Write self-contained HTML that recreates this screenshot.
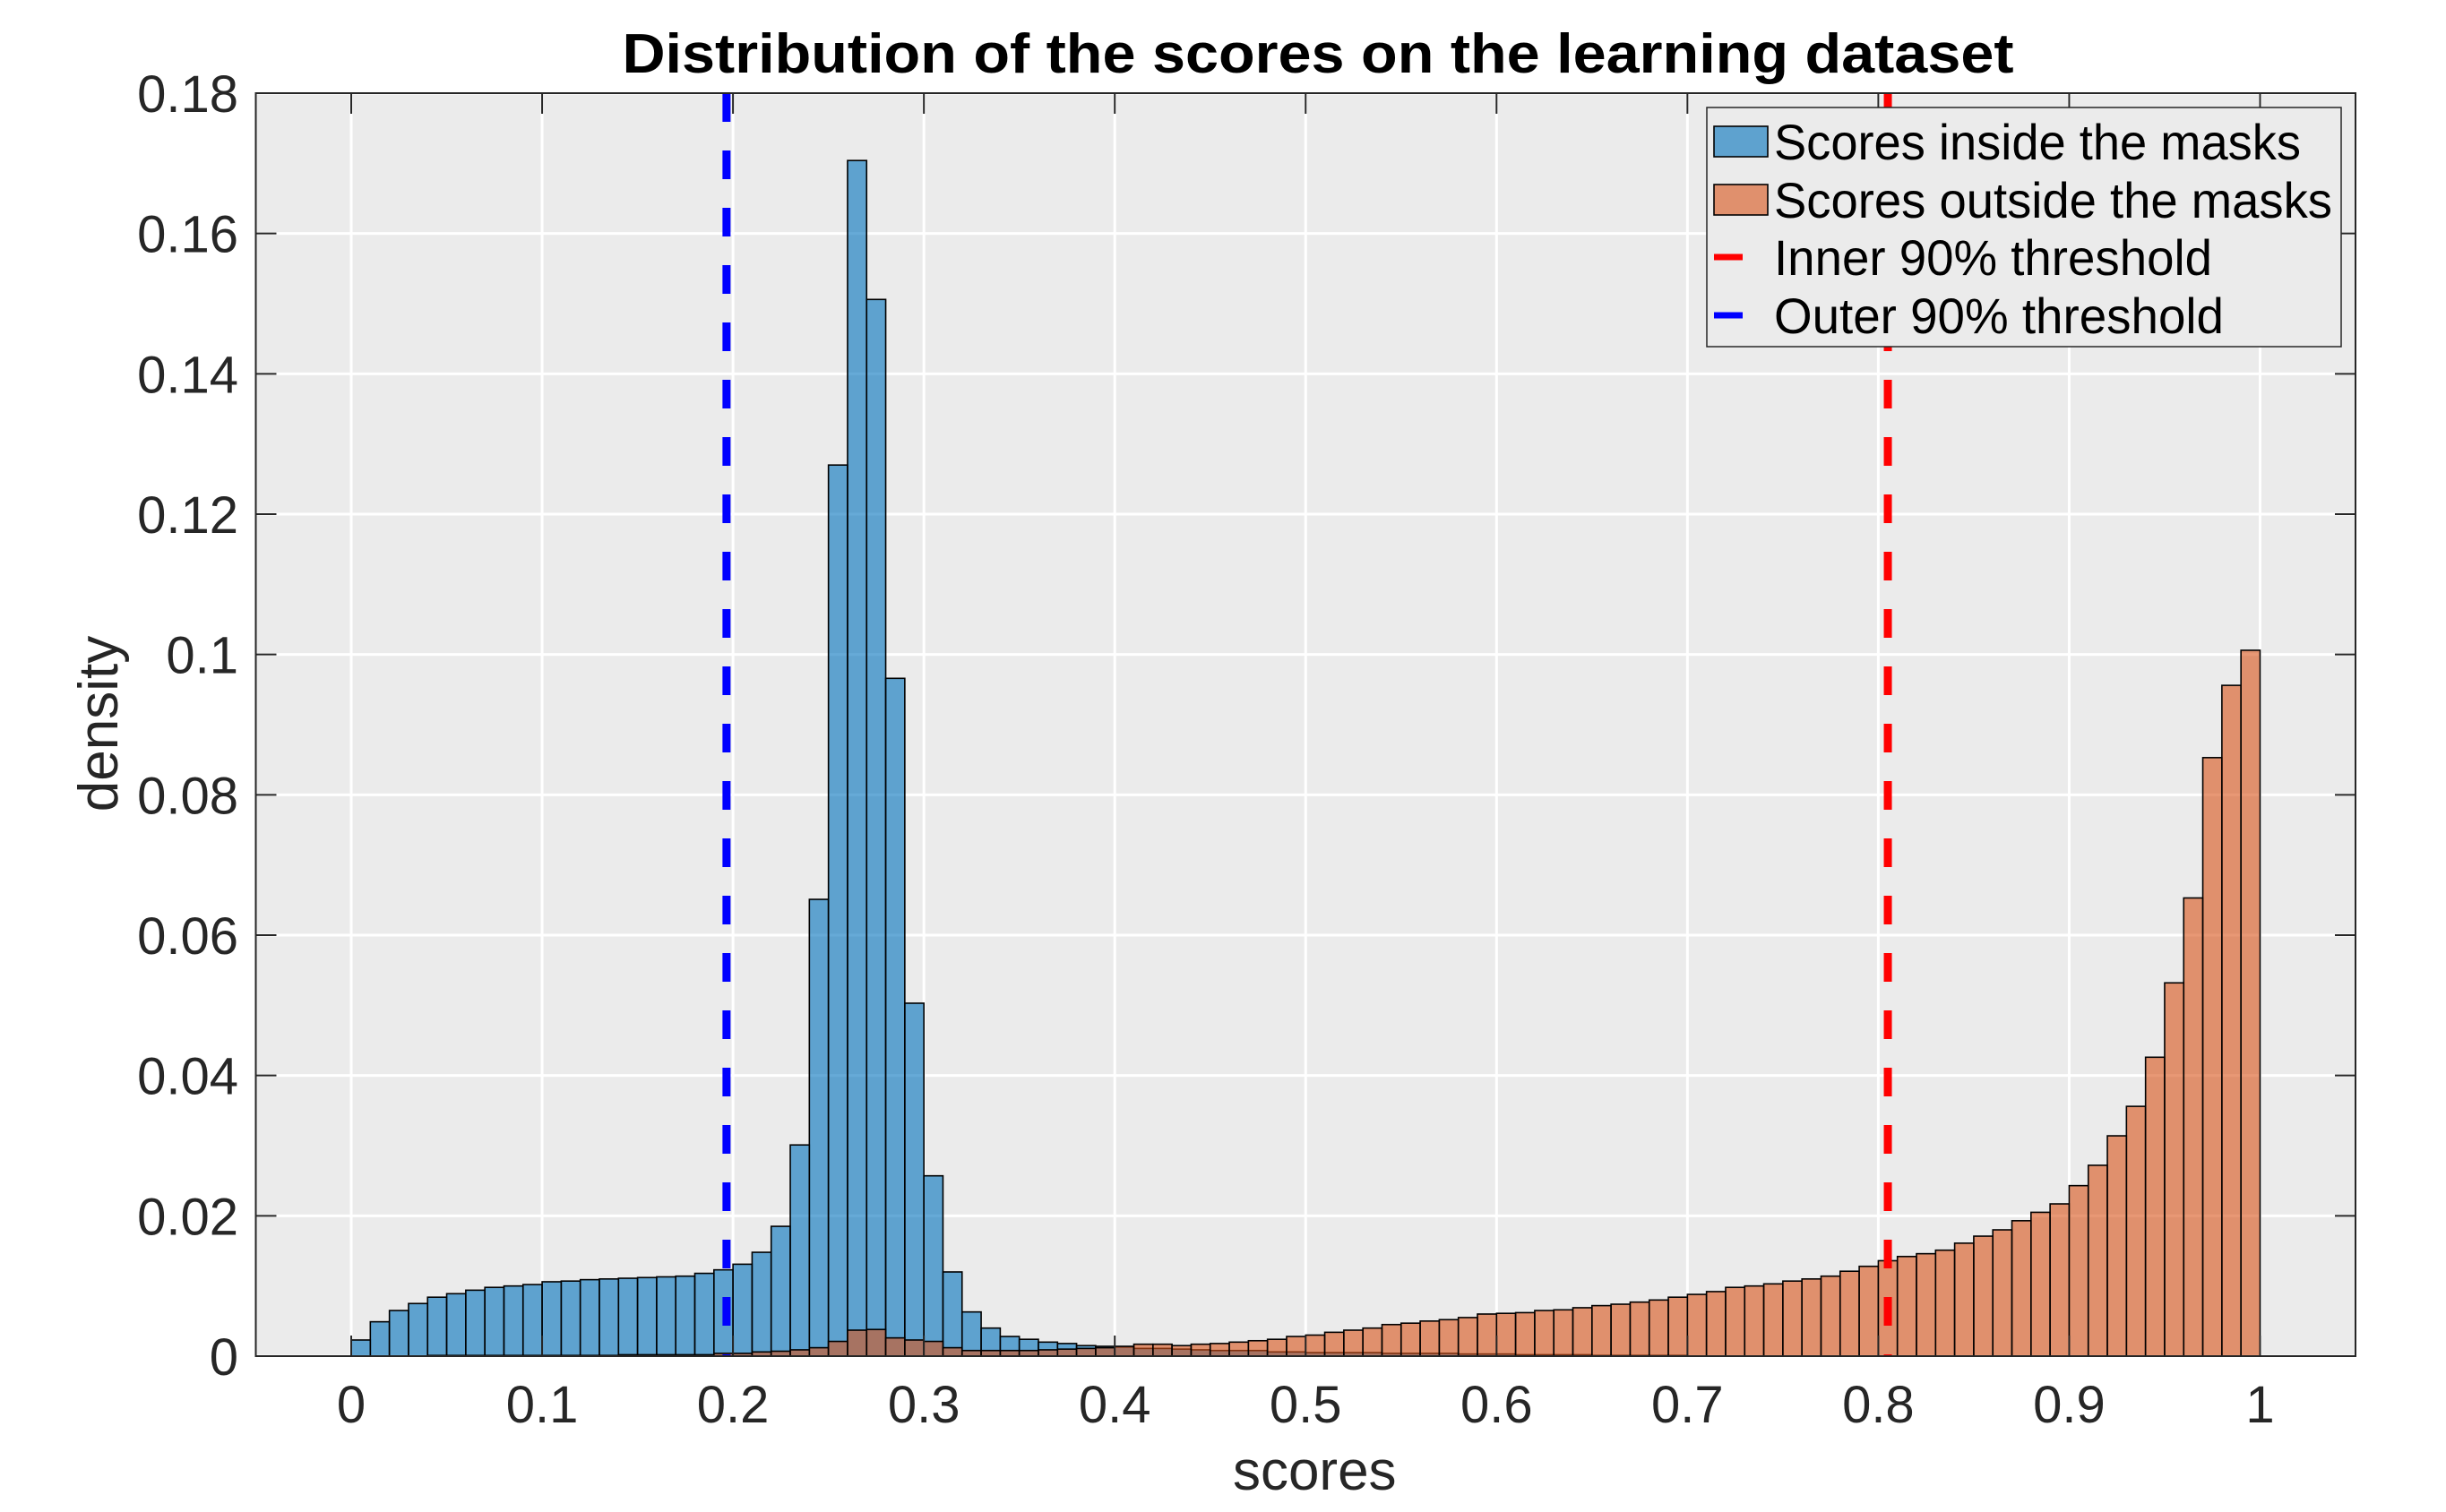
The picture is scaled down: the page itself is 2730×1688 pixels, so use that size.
<!DOCTYPE html>
<html><head><meta charset="utf-8"><style>
html,body{margin:0;padding:0;background:#fff}
svg{display:block}
text{font-family:"Liberation Sans",Arial,sans-serif}
</style></head><body>
<svg id="chart" width="2730" height="1688" viewBox="0 0 2730 1688" xmlns="http://www.w3.org/2000/svg">
<rect x="0" y="0" width="2730" height="1688" fill="#fff"/>
<g id="plot"></g>
</svg>
<script>
const binEdgesStart = 0, binWidth = 0.01;
const insideValues = [
0.0023,0.0049,0.0065,0.0075,0.0084,0.0089,0.0094,0.0098,0.0100,0.0102,
0.0106,0.0107,0.0109,0.0110,0.0111,0.0112,0.0113,0.0114,0.0118,0.0123,
0.0131,0.0148,0.0185,0.0301,0.0651,0.1270,0.1704,0.1506,0.0966,0.0503,
0.0257,0.0120,0.0063,0.0040,0.0028,0.0024,0.0020,0.0018,0.0015,0.0014,
0.0013,0.0011,0.0011,0.0010,0.0009,0.0008,0.0008,0.0008,0.0006,0.0006,
0.0005,0.0005,0.0005,0.0005,0.0004,0.0004,0.0004,0.0004,0.0003,0.0003,
0.0003,0.0002,0.0002,0.0002,0.0002,0.0001,0.0001,0.0001,0.0001,0.0001,
0,0,0,0,0,0,0,0,0,0,0,0,0,0,0,0,0,0,0,0,0,0,0,0,0,0,0,0,0,0];
const outsideValues = [
0,0,0,0,0.0001,0.0001,0.0001,0.0001,0.0001,0.0001,
0.0001,0.0001,0.0001,0.0001,0.0002,0.0002,0.0002,0.0002,0.0002,0.0004,
0.0004,0.0006,0.0007,0.0009,0.0012,0.0021,0.0037,0.0038,0.0026,0.0023,
0.0021,0.0012,0.0008,0.0008,0.0008,0.0008,0.0009,0.0010,0.0011,0.0012,
0.0014,0.0017,0.0017,0.0015,0.0017,0.0018,0.0020,0.0022,0.0024,0.0028,
0.0030,0.0034,0.0037,0.0040,0.0045,0.0047,0.0050,0.0052,0.0055,0.0060,
0.0061,0.0062,0.0065,0.0066,0.0069,0.0072,0.0074,0.0077,0.0080,0.0084,
0.0088,0.0092,0.0098,0.0100,0.0103,0.0107,0.0110,0.0114,0.0121,0.0128,
0.0136,0.0142,0.0146,0.0151,0.0161,0.0171,0.0180,0.0193,0.0205,0.0217,
0.0243,0.0272,0.0314,0.0356,0.0426,0.0532,0.0653,0.0853,0.0956,0.1006];
const xTicks = [0,0.1,0.2,0.3,0.4,0.5,0.6,0.7,0.8,0.9,1];
const xTickLabels = ["0","0.1","0.2","0.3","0.4","0.5","0.6","0.7","0.8","0.9","1"];
const yTicks = [0,0.02,0.04,0.06,0.08,0.1,0.12,0.14,0.16,0.18];
const yTickLabels = ["0","0.02","0.04","0.06","0.08","0.1","0.12","0.14","0.16","0.18"];
const innerThreshold = 0.805;
const outerThreshold = 0.1966;

const L=285.5,R=2629,T=104,B=1514;
const xMin=-0.05,xMax=1.05,yMin=0,yMax=0.18;
function xs(v){return L+(v-xMin)/(xMax-xMin)*(R-L);}
function ys(v){return B-(v-yMin)/(yMax-yMin)*(B-T);}
const NS="http://www.w3.org/2000/svg";
const g=document.getElementById('plot');
function mk(tag,attrs,parent){const e=document.createElementNS(NS,tag);for(const k in attrs)e.setAttribute(k,attrs[k]);(parent||g).appendChild(e);return e;}

const bg=mk('rect',{x:L,y:T,width:R-L,height:B-T,fill:'#ebebeb'});



const grid=mk('g',{stroke:'#ffffff','stroke-width':3});


xTicks.forEach(v=>mk('line',{x1:xs(v),x2:xs(v),y1:T,y2:B},grid));
yTicks.forEach(v=>mk('line',{x1:L,x2:R,y1:ys(v),y2:ys(v)},grid));

function drawSeries(vals,color,name){
  const sg=mk('g',{});
  
  
  vals.forEach((v,i)=>{
    if(v<=0)return;
    const x0=xs(binEdgesStart+i*binWidth),x1=xs(binEdgesStart+(i+1)*binWidth);
    const r=mk('rect',{x:x0,y:ys(v),width:x1-x0,height:ys(0)-ys(v),fill:color,'fill-opacity':0.6,stroke:'#000','stroke-width':1.6},sg);
    
    
  });
}
drawSeries(insideValues,'#0072bd','inside-masks');
drawSeries(outsideValues,'#d95319','outside-masks');

const l1=mk('line',{x1:xs(innerThreshold),x2:xs(innerThreshold),y1:T,y2:B,stroke:'#ff0000','stroke-width':9,'stroke-dasharray':'32 32'});


const l2=mk('line',{x1:xs(outerThreshold),x2:xs(outerThreshold),y1:T,y2:B,stroke:'#0000ff','stroke-width':9,'stroke-dasharray':'32 32'});



const ax=mk('g',{stroke:'#262626','stroke-width':2,fill:'none'});


mk('rect',{x:L,y:T,width:R-L,height:B-T},ax);
xTicks.forEach(v=>{mk('line',{x1:xs(v),x2:xs(v),y1:B,y2:B-23},ax);mk('line',{x1:xs(v),x2:xs(v),y1:T,y2:T+23},ax);});
yTicks.forEach(v=>{mk('line',{x1:L,x2:L+23,y1:ys(v),y2:ys(v)},ax);mk('line',{x1:R,x2:R-23,y1:ys(v),y2:ys(v)},ax);});

xTicks.forEach((v,i)=>{
  const t=mk('text',{x:xs(v),y:1588,'text-anchor':'middle','font-size':58,fill:'#262626'});
  t.textContent=xTickLabels[i];
  
  
});
yTicks.forEach((v,i)=>{
  const t=mk('text',{x:266,y:ys(v)+21,'text-anchor':'end','font-size':58,fill:'#262626'});
  t.textContent=yTickLabels[i];
  
  
});
const xl=mk('text',{x:(L+R)/2+10,y:1663,'text-anchor':'middle','font-size':62,fill:'#262626'});
xl.textContent='scores';


const yl=mk('text',{x:0,y:0,'text-anchor':'middle','font-size':62,fill:'#262626',transform:'translate(131,808) rotate(-90)'});
yl.textContent='density';


const tt=mk('text',{x:1471,y:81,'text-anchor':'middle','font-size':62,'font-weight':'bold',fill:'#000',textLength:1553,lengthAdjust:'spacingAndGlyphs'});
tt.textContent='Distribution of the scores on the learning dataset';



const lg=mk('g',{});


mk('rect',{x:1905,y:120,width:708,height:267,fill:'#ebebeb',stroke:'#262626','stroke-width':1.5},lg);
const legendLabels=['Scores inside the masks','Scores outside the masks','Inner 90% threshold','Outer 90% threshold'];
const legendWidths=[588,623,489,502];
const rowY=[158,223,287,352];
legendLabels.forEach((lab,i)=>{
  const eg=mk('g',{},lg);
  
  
  if(i<2){
    mk('rect',{x:1913,y:rowY[i]-17,width:60,height:34,fill:i==0?'#0072bd':'#d95319','fill-opacity':0.6,stroke:'#000','stroke-width':1.6},eg);
  } else {
    mk('line',{x1:1913,x2:1945,y1:rowY[i],y2:rowY[i],stroke:i==2?'#ff0000':'#0000ff','stroke-width':7},eg);
  }
  const t=mk('text',{x:1980,y:rowY[i]+20,'font-size':56,fill:'#000',textLength:legendWidths[i],lengthAdjust:'spacingAndGlyphs'},eg);
  t.textContent=lab;
});
</script>
</body></html>
